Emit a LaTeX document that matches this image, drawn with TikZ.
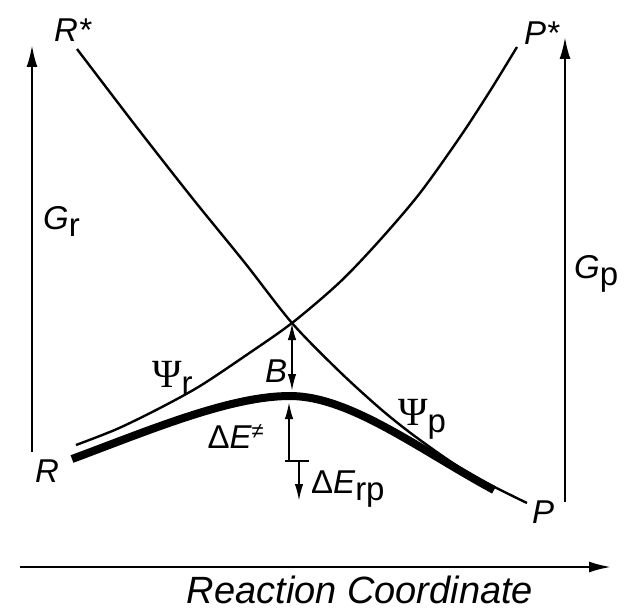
\documentclass[tikz,border=0pt]{standalone}
\usepackage{fontspec}
\setmainfont{Liberation Sans}
\newfontfamily\psifont{Liberation Serif}
\usetikzlibrary{arrows.meta}

\newcommand{\lowsub}[1]{\raisebox{-7pt}{\upshape #1}}
\newcommand{\psisym}{{\psifont\upshape\fontsize{40}{44}\selectfont Ψ}}

\tikzset{
  thinline/.style={line width=2.4pt},
  thickline/.style={line width=8pt},
  bigarrow/.style={line width=2.3pt, -{Latex[length=22pt,width=11pt]}},
  smallarrow/.style={line width=2pt, -{Latex[length=17pt,width=8.5pt]}},
  twoarrow/.style={line width=2pt, {Latex[length=17pt,width=8.5pt]}-{Latex[length=17pt,width=8.5pt]}},
  lbl/.style={inner sep=0pt, font=\fontsize{33}{38}\selectfont\itshape},
}

\begin{document}
\begin{tikzpicture}[x=1pt,y=-1pt]

\useasboundingbox (0,0) rectangle (624,610);

% Punkte
\coordinate (cross) at (292,323);
\coordinate (peaktop) at (292,391);
\coordinate (peakbot) at (289,402);
\coordinate (tick) at (289,461);
\coordinate (tickL) at (285,461);
\coordinate (tickR) at (309,461);
\coordinate (rpstart) at (299,461);
\coordinate (rpend) at (299,501);

% Kurve R* -> P
\draw[thinline] plot[smooth] coordinates {(77,49) (135,125) (193,199) (245,263) (292,323)
    (340,372) (383,411) (420,440) (470,474) (527,503)};

% Kurve R -> P*
\draw[thinline] plot[smooth] coordinates {(76,445) (117,429) (160,408) (200,386) (245,356) (292,323)
    (340,282) (380,240) (420,193) (460,137) (490,91) (517,47)};

% Grundzustand (dick)
\draw[thickline] (72,459) .. controls (150,430) and (230,396) .. (290,396)
    .. controls (350,396) and (420,450) .. (494,490);

% Pfeile
\draw[bigarrow] (32,452) -- (32,45);
\draw[bigarrow] (565,502) -- (565,37);
\draw[bigarrow] (20,567) -- (611,567);
\draw[twoarrow] (cross) -- (peaktop);
\draw[smallarrow] (tick) -- (peakbot);
\draw[line width=2pt] (tickL) -- (tickR);
\draw[smallarrow] (rpstart) -- (rpend);

% Beschriftung
\node[lbl, anchor=base west] (Rstar) at (54,42) {R*};
\node[lbl, anchor=base west] (Pstar) at (524,45) {P*};
\node[lbl, anchor=base west] (Gr) at (43,229) {G\lowsub{r}};
\node[lbl, anchor=base west] (Gp) at (574,278) {G\lowsub{p}};
\node[lbl, anchor=base west] (Psir) at (152,387) {\psisym\lowsub{r}};
\node[lbl, anchor=base west] (Psip) at (398,425) {\psisym\lowsub{p}};
\node[lbl, anchor=base west] (B) at (265,382) {B};
\node[lbl, anchor=base east] (dEts) at (264,448) {{\upshape Δ}E\raisebox{10pt}{\fontsize{22}{24}\selectfont ≠}};
\node[lbl, anchor=base west] (dErp) at (311,493) {{\upshape Δ}E\lowsub{rp}};
\node[lbl, anchor=base west] (R) at (35,482) {R};
\node[lbl, anchor=base west] (P) at (532,523) {P};
\node[lbl, anchor=base, font=\fontsize{38}{42}\selectfont\itshape] (axis) at (360,603) {Reaction Coordinate};

\end{tikzpicture}
\end{document}
